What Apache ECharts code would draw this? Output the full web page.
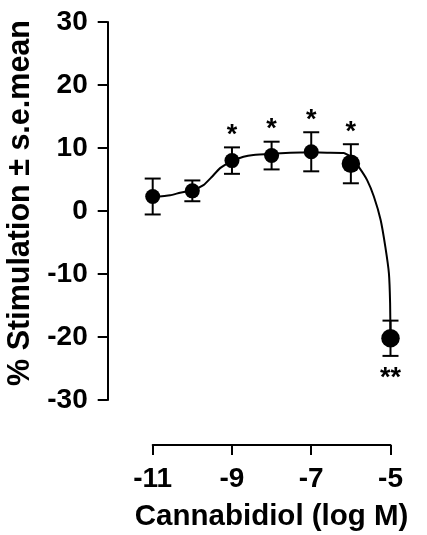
<!DOCTYPE html>
<html><head><meta charset="utf-8">
<script src="https://cdn.jsdelivr.net/npm/echarts@6/dist/echarts.min.js"></script>
<style>html,body{margin:0;padding:0;background:#fff}#c{width:427px;height:535px}</style>
</head><body><div id="c"></div>
<script>
// ---- data ----
const logConc = [-11, -10, -9, -8, -7, -6, -5];
const meanStim = [2.3, 3.2, 8.0, 8.8, 9.4, 7.5, -20.2];
const semStim = [2.85, 1.65, 2.1, 2.2, 3.1, 3.1, 2.8];
const significance = ['', '', '*', '*', '*', '*', '**'];
const curveX = [-11, -10.56, -10.31, -10, -9.72, -9.51, -9.3, -9, -8.71, -8.46, -8, -7.53, -7, -6.6, -6.18, -6, -5.78, -5.59, -5.42, -5.25, -5.13, -5.04, -5.01, -5];
const curveY = [2.2, 2.5, 2.9, 3.3, 4.1, 5.4, 6.8, 7.9, 8.6, 8.9, 9.1, 9.25, 9.3, 9.25, 9.2, 8.6, 6.8, 4.9, 2.3, -1.4, -5.7, -9.9, -14.6, -20.2];
const xTicks = [-11, -9, -7, -5];
const xMin = -11, xMax = -5;
const yMin = -30, yMax = 30, yStep = 10;
const xTitle = 'Cannabidiol (log M)';
const yTitle = '% Stimulation \u00b1 s.e.mean';

// ---- chart ----
const FONT = '"Liberation Sans", Arial, Helvetica, sans-serif';
const chart = echarts.init(document.getElementById('c'), null, {renderer: 'canvas'});
const pts = logConc.map((x, i) => [x, meanStim[i], semStim[i], significance[i]]);
const curve = curveX.map((x, i) => [x, curveY[i]]);

chart.setOption({
  animation: false,
  backgroundColor: '#fff',
  grid: {left: 152.7, right: 36.5, top: 22, bottom: 135, containLabel: false, outerBoundsMode: 'none'},
  xAxis: {
    type: 'value', min: xMin, max: xMax, offset: 45,
    axisLine: {show: true, onZero: false, lineStyle: {color: '#000', width: 2}},
    axisTick: {show: true, length: 10, lineStyle: {color: '#000', width: 2}, customValues: xTicks},
    axisLabel: {customValues: xTicks, margin: 20, color: '#000', fontWeight: 'bold', fontSize: 28, fontFamily: FONT},
    splitLine: {show: false},
    name: xTitle, nameLocation: 'middle', nameGap: 57,
    nameTextStyle: {color: '#000', fontWeight: 'bold', fontSize: 29.5, fontFamily: FONT}
  },
  yAxis: {
    type: 'value', min: yMin, max: yMax, interval: yStep, offset: 45,
    axisLine: {show: true, onZero: false, lineStyle: {color: '#000', width: 2}},
    axisTick: {show: true, length: 10, lineStyle: {color: '#000', width: 2}},
    axisLabel: {margin: 20, color: '#000', fontWeight: 'bold', fontSize: 28, fontFamily: FONT},
    splitLine: {show: false},
    name: yTitle, nameLocation: 'middle', nameGap: 72,
    nameTextStyle: {color: '#000', fontWeight: 'bold', fontSize: 30.5, fontFamily: FONT, padding: [0, 0, 0, 16]}
  },
  series: [
    {
      type: 'line', data: curve, smooth: 0.15, symbol: 'none', z: 2,
      lineStyle: {color: '#000', width: 2}
    },
    {
      type: 'custom', data: pts, z: 3, clip: false,
      renderItem: (params, api) => {
        const x = api.value(0), m = api.value(1), e = api.value(2);
        const top = api.coord([x, m + e]);
        const bot = api.coord([x, m - e]);
        const hw = 8;
        const st = {stroke: '#000', lineWidth: 2};
        return {type: 'group', children: [
          {type: 'line', shape: {x1: top[0], y1: top[1], x2: bot[0], y2: bot[1]}, style: st},
          {type: 'line', shape: {x1: top[0] - hw, y1: top[1], x2: top[0] + hw, y2: top[1]}, style: st},
          {type: 'line', shape: {x1: bot[0] - hw, y1: bot[1], x2: bot[0] + hw, y2: bot[1]}, style: st}
        ]};
      }
    },
    {
      type: 'scatter', data: pts.map(p => [p[0], p[1]]), z: 4,
      symbol: 'circle', symbolSize: (v, p) => (p.dataIndex >= 5 ? 18.5 : 15),
      itemStyle: {color: '#000', opacity: 1},
      emphasis: {disabled: true}
    },
    {
      type: 'custom', data: pts, z: 5, clip: false,
      renderItem: (params, api) => {
        const x = api.value(0), m = api.value(1), e = api.value(2);
        const s = significance[params.dataIndex];
        if (!s) return null;
        let pos;
        if (m >= 0) { pos = api.coord([x, m + e]); pos = [pos[0], pos[1] - 12]; }
        else { pos = api.coord([x, m - e]); pos = [pos[0], pos[1] + 23]; }
        return {type: 'text', x: pos[0], y: pos[1], style: {
          text: s, align: 'center', verticalAlign: 'middle', fill: '#000',
          font: 'bold 27px ' + FONT
        }};
      }
    }
  ]
});
</script>
</body></html>
